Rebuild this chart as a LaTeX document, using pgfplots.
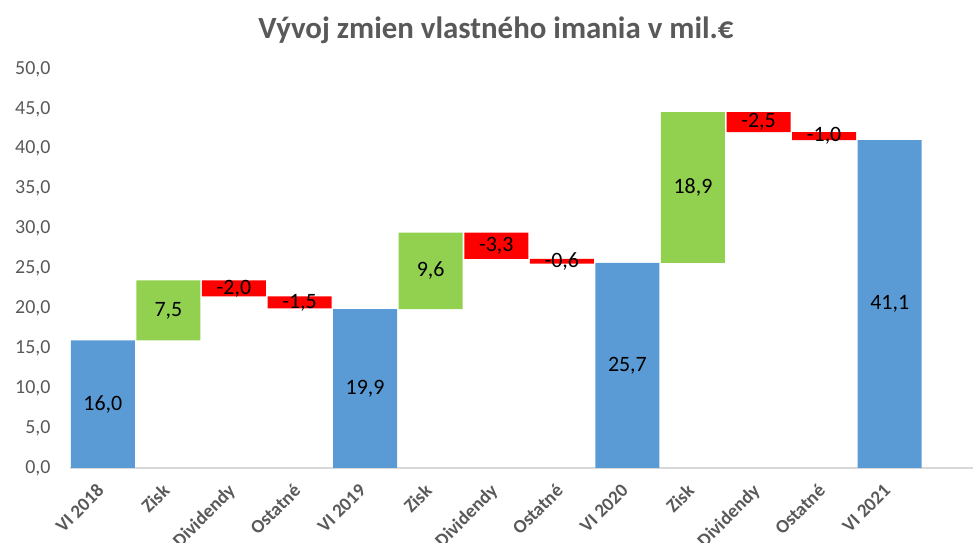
\documentclass[border=0pt]{standalone}
\usepackage{fontspec}
\setmainfont{Carlito}
\usepackage{pgfplots}
\pgfplotsset{compat=1.18}
\definecolor{cblue}{HTML}{5B9BD5}
\definecolor{cgreen}{HTML}{92D050}
\definecolor{cred}{HTML}{FF0000}
\definecolor{cgray}{HTML}{595959}
\definecolor{caxis}{HTML}{D9D9D9}
\begin{document}
\begin{tikzpicture}
\path[use as bounding box] (0bp,0bp) rectangle (973bp,543bp);
\pgfplotsset{wf/.style={at={(70bp,75bp)}, anchor=south west, scale only axis,
  width=903bp, height=399bp, xmin=-0.5, xmax=13.27, ymin=0, ymax=50}}
\begin{axis}[wf, ybar stacked, bar width=64bp,
  axis lines*=left,
  y axis line style={draw=none},
  x axis line style={draw=caxis, line width=1.2bp},
  ytick={0,5,...,50},
  ytick style={draw=none}, xtick style={draw=none},
  /pgf/number format/.cd, fixed, fixed zerofill, precision=1, use comma, assume math mode=true,
  /pgfplots/.cd,
  yticklabel style={font=\fontsize{20}{20}\selectfont, text=cgray, xshift=-16bp},
  xtick={0,...,12},
  xticklabels={VI 2018, Zisk, Dividendy, Ostatné, VI 2019, Zisk, Dividendy, Ostatné, VI 2020, Zisk, Dividendy, Ostatné, VI 2021},
  xticklabel style={rotate=45, anchor=north east, font=\bfseries\fontsize{19}{19}\selectfont, text=cgray, xshift=-12bp, yshift=-2bp},
]
\addplot[fill=none, draw=none] coordinates {(0,0) (1,16.0) (2,21.5) (3,20.0) (4,0) (5,19.9) (6,26.2) (7,25.6) (8,0) (9,25.7) (10,42.1) (11,41.1) (12,0)};
\addplot[fill=cblue, draw=none] coordinates {(0,16.0) (1,0) (2,0) (3,0) (4,19.9) (5,0) (6,0) (7,0) (8,25.7) (9,0) (10,0) (11,0) (12,41.1)};
\addplot[fill=cgreen, draw=none] coordinates {(0,0) (1,7.5) (2,0) (3,0) (4,0) (5,9.6) (6,0) (7,0) (8,0) (9,18.9) (10,0) (11,0) (12,0)};
\addplot[fill=cred, draw=none] coordinates {(0,0) (1,0) (2,2.0) (3,1.5) (4,0) (5,0) (6,3.3) (7,0.6) (8,0) (9,0) (10,2.5) (11,1.0) (12,0)};
\end{axis}
\begin{axis}[wf, hide axis]
\addplot[draw=none, mark=none, nodes near coords, point meta=explicit symbolic,
  every node near coord/.append style={anchor=center, font=\fontsize{22}{22}\selectfont, text=black}]
  table[meta=lab] {
x y lab
0 8.0 16,0
1 19.75 7,5
2 22.5 -2,0
3 20.75 -1,5
4 9.95 19,9
5 24.7 9,6
6 27.85 -3,3
7 25.9 -0,6
8 12.85 25,7
9 35.15 18,9
10 43.35 -2,5
11 41.6 -1,0
12 20.55 41,1
};
\end{axis}
\node[font=\bfseries\fontsize{31}{31}\selectfont, text=cgray] at (496bp,513bp) {Vývoj zmien vlastného imania v mil.€};
\end{tikzpicture}
\end{document}
